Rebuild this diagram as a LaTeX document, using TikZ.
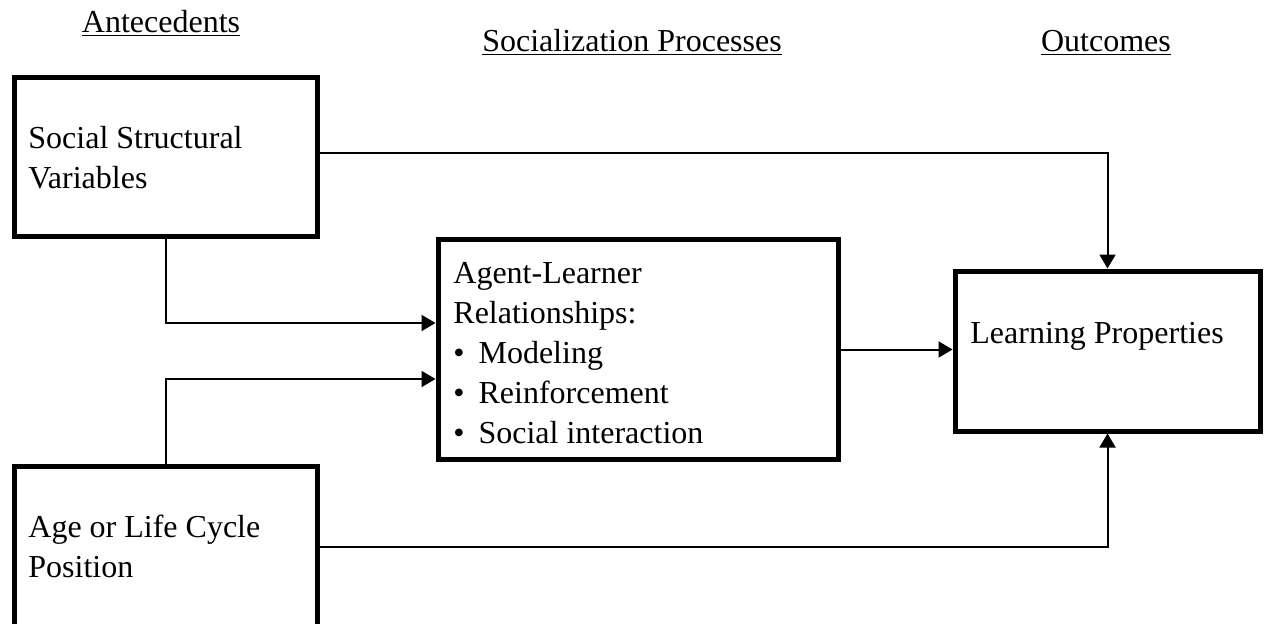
\documentclass[tikz,border=0pt]{standalone}
\usepackage{fontspec}
\setmainfont{Liberation Serif}
\usetikzlibrary{arrows.meta}

\begin{document}
\begin{tikzpicture}[
    x=0.5pt, y=-0.5pt,
    every node/.style={font=\fontsize{16}{20}\selectfont},
    box/.style={draw, line width=2.5pt, inner sep=0pt, outer sep=0pt},
    boxtext/.style={anchor=base west, align=left, inner sep=0pt},
    heading/.style={anchor=base, inner sep=0pt},
    link/.style={line width=1pt, shorten >=1.25pt,
        -{Triangle[length=7pt, width=8pt]}}
        ]

    \path [use as bounding box] (0,0) rectangle (1267,623);

    % column headings
    \node at (161,32) [heading] (hant) {\underline{Antecedents}};
    \node at (632,51) [heading] (hproc) {\underline{Socialization Processes}};
    \node at (1106,51) [heading] (hout) {\underline{Outcomes}};

    % boxes
    \node [box, minimum width=151.75pt, minimum height=79.5pt] (ssv) at (165.75,157) {};
    \node [box, minimum width=200pt, minimum height=110pt] (alr) at (638,349.5) {};
    \node [box, minimum width=152.5pt, minimum height=80pt] (lp) at (1107.5,351) {};
    \node [box, minimum width=151.75pt, minimum height=81pt] (age) at (165.75,547) {};

    % box texts, placed at the baseline of their last line
    \node [boxtext] (ssvtext) at (28,188) {Social Structural\\Variables};
    \node [boxtext] (alrtext) at (453,443) {Agent-Learner\\Relationships:\\
        •\hspace{7pt}Modeling\\•\hspace{7pt}Reinforcement\\•\hspace{7pt}Social interaction};
    \node [boxtext] (lptext) at (970,343) {Learning Properties};
    \node [boxtext] (agetext) at (28,577) {Age or Life Cycle\\Position};

    % connectors
    \coordinate (ssvout) at ([yshift=2pt]ssv.east);
    \coordinate (alrin1) at ([yshift=13.25pt]alr.west);
    \coordinate (alrin2) at ([yshift=-14.75pt]alr.west);

    \draw [link] (ssv.south) |- (alrin1);
    \draw [link] (age.north) |- (alrin2);
    \draw [link] (alr.east) -- (alr.east -| lp.west);
    \draw [link] (ssvout) -| (lp.north);
    \draw [link] (age.east) -| (lp.south);

\end{tikzpicture}
\end{document}
